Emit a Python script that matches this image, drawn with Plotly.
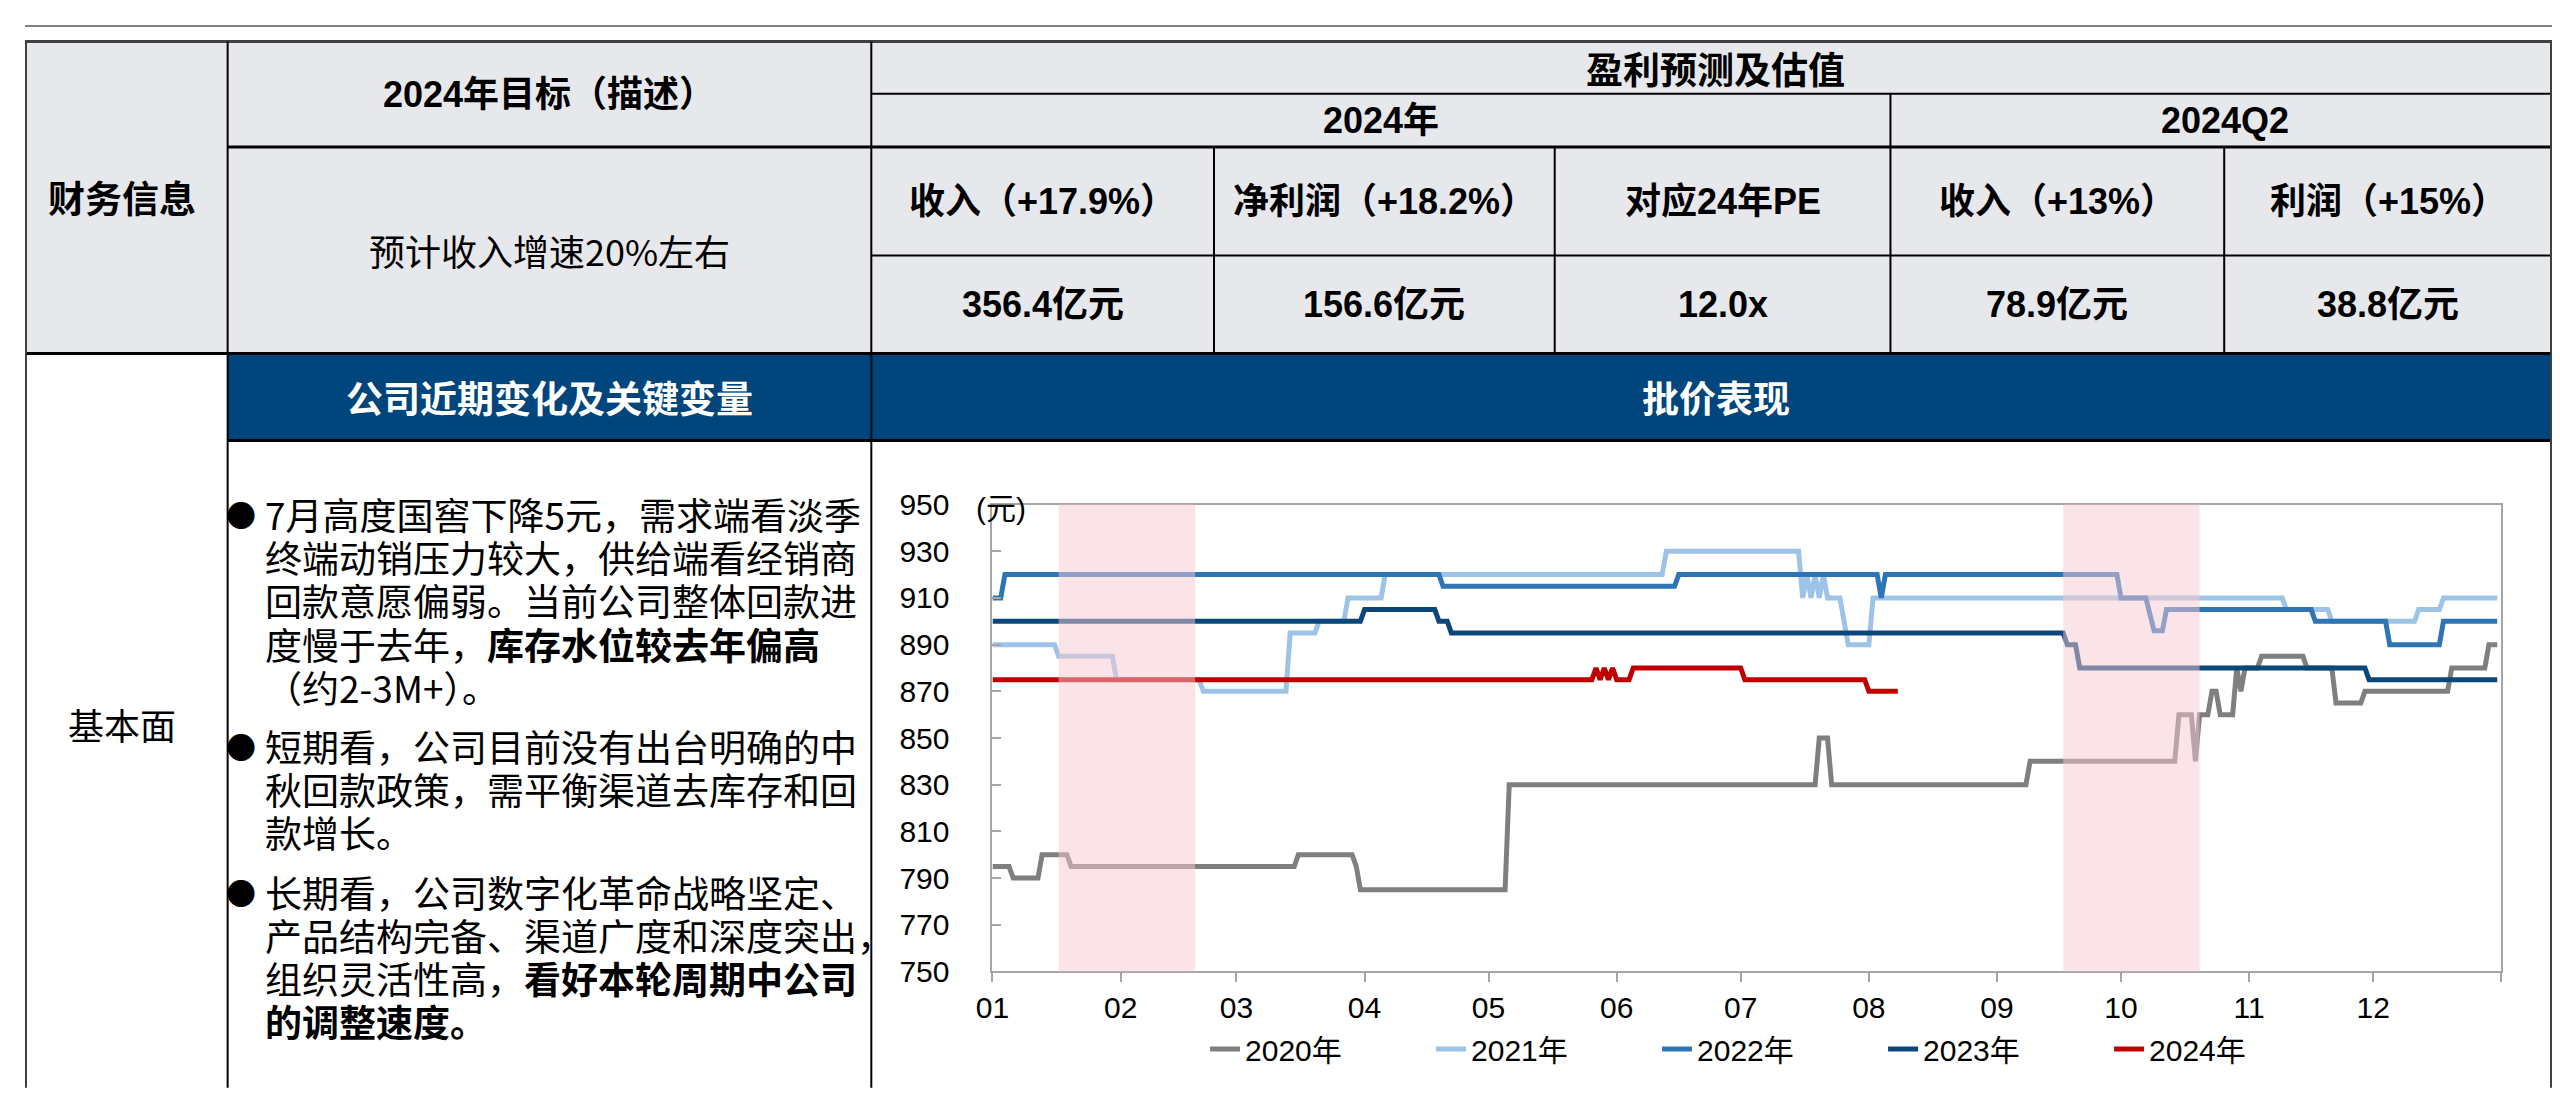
import plotly.graph_objects as go

# page is 2560x1105; the html body keeps an 8px margin, so the figure is 16px smaller
PAGE_W, PAGE_H = 2560, 1105
OFF = 8
W, H = PAGE_W - 2 * OFF, PAGE_H - 2 * OFF

# ----------------------------------------
#   wholesale price by year (元), month-day
# ----------------------------------------
YEAR_NAMES = ["2020年", "2021年", "2022年", "2023年", "2024年"]
LINE_COLOURS = ["#7F7F7F", "#9DC3E6", "#2E75B6", "#0B477B", "#C00000"]

dates_2020 = ["01-01", "01-05", "01-06", "01-12", "01-13", "01-19", "01-20", "03-15", "03-16",
              "03-29", "03-30", "03-31", "05-05", "05-06", "07-19", "07-20", "07-22", "07-23",
              "09-08", "09-09", "10-14", "10-15", "10-18", "10-19", "10-20", "10-22", "10-23",
              "10-24", "10-25", "10-28", "10-29", "10-30", "10-31", "11-03", "11-04", "11-14",
              "11-15", "11-21", "11-22", "11-28", "11-29", "12-19", "12-20", "12-28", "12-29",
              "12-31"]
price_2020 = [795, 795, 790, 790, 800, 800, 795, 795, 800,
              800, 795, 785, 785, 830, 830, 850, 850, 830,
              830, 840, 840, 860, 860, 840, 860, 860, 870,
              870, 860, 860, 880, 870, 880, 880, 885, 885,
              880, 880, 865, 865, 870, 870, 880, 880, 890,
              890]

dates_2021 = ["01-01", "01-16", "01-17", "01-30", "01-31", "02-20", "02-21", "03-13", "03-14",
              "03-20", "03-21", "03-27", "03-28", "04-05", "04-06", "06-12", "06-13", "07-15",
              "07-16", "07-17", "07-18", "07-19", "07-20", "07-21", "07-22", "07-25", "07-27",
              "08-01", "08-02", "11-09", "11-10", "11-20", "11-21", "12-11", "12-12", "12-17",
              "12-18", "12-31"]
price_2021 = [890, 890, 885, 885, 875, 875, 870, 870, 895,
              895, 900, 900, 910, 910, 920, 920, 930, 930,
              910, 920, 910, 920, 910, 920, 910, 910, 890,
              890, 910, 910, 905, 905, 900, 900, 905, 905,
              910, 910]

dates_2022 = ["01-01", "01-03", "01-04", "04-19", "04-20", "06-15", "06-16", "08-03", "08-04",
              "08-05", "09-30", "10-01", "10-07", "10-09", "10-11", "10-12", "11-16", "11-17",
              "12-04", "12-05", "12-17", "12-18", "12-31"]
price_2022 = [910, 910, 920, 920, 915, 915, 920, 920, 910,
              920, 920, 910, 910, 896, 896, 905, 905, 900,
              900, 890, 890, 900, 900]

dates_2023 = ["01-01", "03-31", "04-01", "04-18", "04-19", "04-21", "04-22", "09-17", "09-18",
              "09-20", "09-21", "11-29", "11-30", "12-31"]
price_2023 = [900, 900, 905, 905, 900, 900, 895, 895, 890,
              890, 880, 880, 875, 875]

dates_2024 = ["01-01", "05-26", "05-27", "05-28", "05-29", "05-30", "05-31", "06-01", "06-04",
              "06-05", "07-01", "07-02", "07-31", "08-01", "08-08"]
price_2024 = [875, 875, 880, 875, 880, 875, 880, 875, 875,
              880, 880, 875, 875, 870, 870]

# holiday selling seasons (shaded)
SHADE_WINDOWS = [("01-17", "02-19"), ("09-17", "10-20")]

MONTH_LABELS = ["01", "02", "03", "04", "05", "06", "07", "08", "09", "10", "11", "12"]
PRICE_UNIT = "(元)"

# ----------------------------------------
#   table texts
# ----------------------------------------
FIN_LABEL = "财务信息"
TARGET_TITLE = "2024年目标（描述）"
TARGET_TEXT = "预计收入增速20%左右"
FORECAST_TITLE = "盈利预测及估值"
PERIODS = ["2024年", "2024Q2"]
METRICS = ["收入（+17.9%）", "净利润（+18.2%）", "对应24年PE", "收入（+13%）", "利润（+15%）"]
METRIC_VALUES = ["356.4亿元", "156.6亿元", "12.0x", "78.9亿元", "38.8亿元"]
SECTION_LABEL = "基本面"
BLUE_TITLES = ["公司近期变化及关键变量", "批价表现"]
BULLET_LINES = [
    ["7月高度国窖下降5元，需求端看淡季",
     "终端动销压力较大，供给端看经销商",
     "回款意愿偏弱。当前公司整体回款进",
     "度慢于去年，<b>库存水位较去年偏高</b>",
     "（约2-3M+）。"],
    ["短期看，公司目前没有出台明确的中",
     "秋回款政策，需平衡渠道去库存和回",
     "款增长。"],
    ["长期看，公司数字化革命战略坚定、",
     "产品结构完备、渠道广度和深度突出，",
     "组织灵活性高，<b>看好本轮周期中公司</b>",
     "<b>的调整速度。</b>"],
]

BASE_YEAR = "2023-"
LATIN = "Liberation Sans, Noto Sans CJK SC, sans-serif"
CJK = "Noto Sans CJK SC, Liberation Sans, sans-serif"
GREY_FILL = "#E7E8EC"
BLUE_FILL = "#00457B"


# page pixel -> paper coordinate
def px(x):
    return (x - OFF) / W


def py(y):
    return 1 - (y - OFF) / H


fig = go.Figure()

series = [(dates_2020, price_2020), (dates_2021, price_2021), (dates_2022, price_2022),
          (dates_2023, price_2023), (dates_2024, price_2024)]
for name, colour, (d, v) in zip(YEAR_NAMES, LINE_COLOURS, series):
    fig.add_trace(go.Scatter(
        x=[BASE_YEAR + s for s in d], y=v, mode="lines", name=name,
        line=dict(color=colour, width=5),
        hoverinfo="skip",
    ))

shapes = []
annotations = []

# shaded seasons inside the chart
for start, end in SHADE_WINDOWS:
    shapes.append(dict(type="rect", xref="x", yref="y domain",
                       x0=BASE_YEAR + start, x1=BASE_YEAR + end, y0=0, y1=1,
                       fillcolor="rgb(247,201,209)", opacity=0.5, line=dict(width=0),
                       layer="above"))


def rect(x0, y0, x1, y1, fill):
    shapes.append(dict(type="rect", xref="paper", yref="paper",
                       x0=px(x0), x1=px(x1), y0=py(y1), y1=py(y0),
                       fillcolor=fill, line=dict(width=0), layer="below"))


def hline(x0, x1, y, width=2, colour="black"):
    shapes.append(dict(type="line", xref="paper", yref="paper",
                       x0=px(x0), x1=px(x1), y0=py(y), y1=py(y),
                       line=dict(color=colour, width=width)))


def vline(x, y0, y1, width=2, colour="black"):
    shapes.append(dict(type="line", xref="paper", yref="paper",
                       x0=px(x), x1=px(x), y0=py(y0), y1=py(y1),
                       line=dict(color=colour, width=width)))


def label(text, x, y, size=36, bold=False, colour="black", family=LATIN, xanchor="center"):
    if bold:
        text = "<b>" + text + "</b>"
    annotations.append(dict(text=text, x=px(x), y=py(y), xref="paper", yref="paper",
                            xanchor=xanchor, yanchor="middle", showarrow=False,
                            font=dict(size=size, color=colour, family=family)))


# backgrounds
rect(OFF, 25, PAGE_W, 347, GREY_FILL)
rect(212, 347, PAGE_W, 437, BLUE_FILL)

# grid of the table
hline(OFF, PAGE_W, 9, 2, "#7F7F7F")
hline(OFF, PAGE_W, 25, 3, "#404040")
hline(860, PAGE_W, 79, 2)
hline(212, PAGE_W, 134, 3)
hline(860, PAGE_W, 246, 2)
hline(OFF, PAGE_W, 347, 3)
hline(212, PAGE_W, 437, 3)
vline(OFF + 1, 25, PAGE_H, 2, "#404040")
vline(212, 25, PAGE_H, 2)
vline(860, 25, PAGE_H, 2)
vline(PAGE_W - OFF - 1, 25, PAGE_H, 2, "#404040")
vline(1886, 79, 347, 2)
col_edges = [860, 1205, 1548, 1886, 2222, 2552]
for x in (1205, 1548, 2222):
    vline(x, 134, 347, 2)

# header texts
label(FIN_LABEL, 106, 186, size=37, bold=True, family=CJK)
label(TARGET_TITLE, 536, 80, bold=True)
label(TARGET_TEXT, 536, 240, family=CJK)
label(FORECAST_TITLE, 1710, 52, size=37, bold=True, family=CJK)
label(PERIODS[0], (860 + 1886) / 2, 107, bold=True)
label(PERIODS[1], (1886 + 2560) / 2, 107, bold=True)
for i, (m, v) in enumerate(zip(METRICS, METRIC_VALUES)):
    xc = (col_edges[i] + col_edges[i + 1]) / 2
    label(m, xc, 190, bold=True)
    label(v, xc, 297, bold=True)

label(BLUE_TITLES[0], 536, 392, size=37, bold=True, colour="white", family=CJK)
label(BLUE_TITLES[1], 1710, 392, size=37, bold=True, colour="white", family=CJK)
label(SECTION_LABEL, 106, 730, family=CJK)

# bullet paragraphs
para_tops = [513, 752, 903]
pitch = 44.5
for top, lines in zip(para_tops, BULLET_LINES):
    label("●", 225, top, size=30, family=CJK)
    for k, line in enumerate(lines):
        label(line, 248, top + k * pitch, size=37, family=CJK, xanchor="left")

# unit label of the price chart
label(PRICE_UNIT, 963, 507, size=30, xanchor="left")

axis_grey = "#A6A6A6"
fig.update_layout(
    width=W, height=H,
    margin=dict(l=0, r=0, t=0, b=0),
    paper_bgcolor="white", plot_bgcolor="white",
    font=dict(family=LATIN, size=30, color="black"),
    xaxis=dict(
        domain=[px(982), px(2501)], type="date",
        range=[BASE_YEAR + "01-01", "2024-01-01"],
        tickvals=[BASE_YEAR + m + "-01" for m in MONTH_LABELS] + ["2024-01-01"],
        ticktext=MONTH_LABELS + [""],
        ticks="outside", ticklen=9, tickwidth=2, tickcolor=axis_grey,
        showline=True, linecolor=axis_grey, linewidth=2, mirror=True,
        showgrid=False, zeroline=False,
        tickfont=dict(size=30, family=LATIN, color="black"),
    ),
    yaxis=dict(
        domain=[py(985), py(503)],
        range=[750, 950], tick0=750, dtick=20,
        ticks="inside", ticklen=9, tickwidth=2, tickcolor=axis_grey,
        showline=True, linecolor=axis_grey, linewidth=2, mirror=True,
        showgrid=False, zeroline=False, ticklabelstandoff=35,
        tickfont=dict(size=30, family=LATIN, color="black"),
    ),
    legend=dict(
        orientation="h", x=px(1196), xanchor="left", y=py(1065), yanchor="middle",
        font=dict(size=30, family=LATIN, color="black"),
        entrywidth=181, entrywidthmode="pixels",
        bgcolor="rgba(0,0,0,0)", borderwidth=0,
    ),
    shapes=shapes,
    annotations=annotations,
)

fig.write_html("out.html", config={"displayModeBar": False})
